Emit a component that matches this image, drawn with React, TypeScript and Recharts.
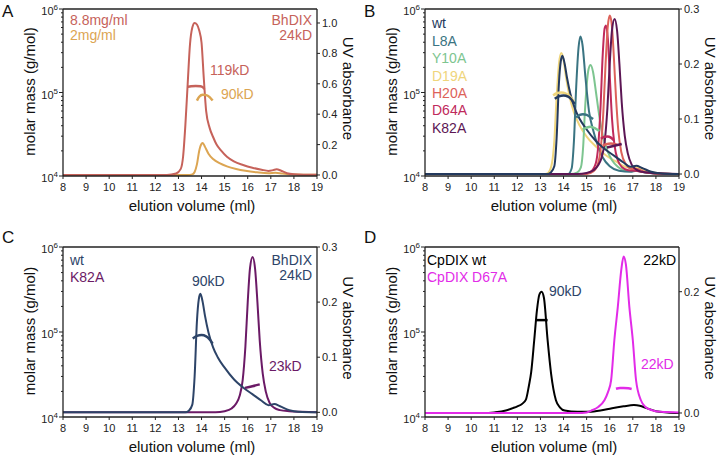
import React from 'react';
import { ComposedChart, Line, XAxis, YAxis, ReferenceLine } from 'recharts';

const FONT = '"Liberation Sans", Arial, Helvetica, sans-serif';
const AXIS = '#222';

// axis ticks
const volTicks = [8, 9, 10, 11, 12, 13, 14, 15, 16, 17, 18, 19];
const massTicks = [
  10000, 20000, 30000, 40000, 50000, 60000, 70000, 80000, 90000,
  100000, 200000, 300000, 400000, 500000, 600000, 700000, 800000, 900000, 1000000,
];
const uvTicksA = [0, 0.2, 0.4, 0.6, 0.8, 1.0];
const uvTicksBC = [0, 0.1, 0.2, 0.3];
const uvTicksD = [0, 0.2];

// ---- panel A: BhDIX at two concentrations
const volA88 = [8, 12.5, 12.9, 13.1, 13.2, 13.3, 13.4, 13.5, 13.6, 13.7, 13.8, 13.9, 14.0, 14.1, 14.2, 14.35, 14.5, 14.65, 14.85, 15.1, 15.4, 15.8, 16.2, 16.6, 16.9, 17.1, 17.25, 17.45, 17.7, 18.0, 18.5, 19];
const uvA88 = [0, 0, 0.01, 0.04, 0.12, 0.33, 0.6, 0.86, 0.97, 1.0, 0.99, 0.95, 0.87, 0.63, 0.42, 0.31, 0.25, 0.2, 0.16, 0.12, 0.09, 0.066, 0.048, 0.035, 0.027, 0.032, 0.037, 0.028, 0.012, 0.005, 0.002, 0.001];
const volA2 = [8, 13.4, 13.6, 13.7, 13.8, 13.9, 14.0, 14.05, 14.15, 14.3, 14.5, 14.8, 15.1, 15.5, 15.9, 16.4, 16.9, 17.2, 17.5, 18.0, 19];
const uvA2 = [0, 0, 0.004, 0.02, 0.07, 0.16, 0.205, 0.21, 0.185, 0.14, 0.105, 0.076, 0.057, 0.04, 0.028, 0.018, 0.012, 0.015, 0.009, 0.003, 0.001];
const mVolA88 = [13.4, 13.55, 13.75, 13.95, 14.05, 14.12];
const massA88 = [117000, 119000, 120000, 119000, 116000, 110000];
const mVolA2 = [13.8, 13.9, 14.05, 14.2, 14.35, 14.48];
const massA2 = [80000, 89000, 94000, 93000, 88000, 80000];

// ---- panel B: BhDIX point mutants
const volWt = [8, 13.3, 13.45, 13.6, 13.7, 13.8, 13.88, 13.95, 14.05, 14.15, 14.3, 14.5, 14.7, 15.0, 15.4, 15.8, 16.2, 16.6, 16.9, 17.15, 17.4, 17.8, 18.2, 19];
const uvWt = [0, 0, 0.003, 0.014, 0.065, 0.165, 0.205, 0.215, 0.2, 0.175, 0.145, 0.118, 0.1, 0.081, 0.06, 0.045, 0.033, 0.021, 0.013, 0.015, 0.011, 0.004, 0.001, 0];
const volD19A = [8, 13.2, 13.35, 13.5, 13.6, 13.7, 13.8, 13.9, 14.0, 14.1, 14.25, 14.45, 14.7, 15.0, 15.4, 15.8, 16.3, 16.8, 17.2, 17.6, 18.2, 19];
const uvD19A = [0, 0, 0.003, 0.02, 0.06, 0.14, 0.2, 0.22, 0.208, 0.178, 0.143, 0.112, 0.088, 0.068, 0.05, 0.035, 0.022, 0.012, 0.012, 0.005, 0.001, 0];
const volL8A = [8, 14.2, 14.35, 14.45, 14.55, 14.65, 14.73, 14.82, 14.95, 15.1, 15.28, 15.5, 15.7, 16.0, 16.4, 16.9, 17.15, 17.5, 18, 19];
const uvL8A = [0, 0, 0.01, 0.06, 0.16, 0.23, 0.25, 0.235, 0.175, 0.115, 0.08, 0.05, 0.03, 0.014, 0.006, 0.004, 0.006, 0.003, 0.001, 0];
const volY10A = [8, 14.3, 14.6, 14.75, 14.85, 14.92, 15.0, 15.08, 15.17, 15.28, 15.4, 15.55, 15.7, 15.9, 16.1, 16.35, 16.7, 17.1, 17.5, 18, 19];
const uvY10A = [0, 0, 0.003, 0.012, 0.05, 0.11, 0.16, 0.19, 0.198, 0.185, 0.15, 0.105, 0.07, 0.042, 0.025, 0.013, 0.006, 0.006, 0.003, 0.001, 0];
const volH20A = [8, 15.0, 15.3, 15.5, 15.62, 15.72, 15.82, 15.92, 16.0, 16.08, 16.17, 16.27, 16.37, 16.5, 16.7, 16.95, 17.2, 17.5, 18, 19];
const uvH20A = [0, 0, 0.005, 0.02, 0.05, 0.11, 0.2, 0.27, 0.288, 0.275, 0.22, 0.14, 0.08, 0.04, 0.018, 0.009, 0.009, 0.004, 0.001, 0];
const volD64A = [8, 14.9, 15.2, 15.4, 15.5, 15.6, 15.7, 15.78, 15.84, 15.92, 16.0, 16.1, 16.2, 16.35, 16.55, 16.8, 17.1, 17.5, 18, 19];
const uvD64A = [0, 0, 0.005, 0.02, 0.05, 0.12, 0.22, 0.265, 0.27, 0.245, 0.18, 0.1, 0.055, 0.025, 0.012, 0.007, 0.006, 0.003, 0.001, 0];
const volK82A = [8, 14.6, 15.0, 15.3, 15.5, 15.65, 15.78, 15.9, 16.0, 16.1, 16.21, 16.32, 16.42, 16.52, 16.65, 16.78, 16.95, 17.15, 17.4, 17.8, 18.3, 19];
const uvK82A = [0, 0, 0.002, 0.007, 0.016, 0.03, 0.058, 0.12, 0.2, 0.262, 0.282, 0.26, 0.2, 0.13, 0.07, 0.038, 0.017, 0.008, 0.004, 0.002, 0.001, 0];

const mVolWt = [13.62, 13.8, 14.0, 14.2, 14.35, 14.48];
const massWt = [84000, 90000, 92000, 89000, 82000, 73000];
const mVolD19A = [13.55, 13.7, 13.9, 14.1, 14.3, 14.45];
const massD19A = [92000, 98000, 100000, 97000, 88000, 78000];
const mVolL8A = [14.55, 14.7, 14.84, 15.0, 15.15, 15.28];
const massL8A = [50000, 54000, 55000, 54000, 51000, 48000];
const mVolY10A = [14.83, 15.0, 15.16, 15.35, 15.55];
const massY10A = [36000, 38000, 39000, 37500, 34500];
const mVolH20A = [15.69, 15.85, 16.05, 16.2, 16.32];
const massH20A = [23000, 24000, 24500, 24200, 23600];
const mVolD64A = [15.62, 15.78, 15.91, 16.05, 16.17];
const massD64A = [28000, 29500, 29700, 28800, 27000];
const mVolK82A = [15.88, 16.2, 16.52];
const massK82A = [22000, 23000, 24200];

// ---- panel D: CpDIX
const volCp = [8, 10.5, 11.0, 11.5, 11.8, 12.0, 12.2, 12.37, 12.5, 12.6, 12.73, 12.85, 12.95, 13.05, 13.15, 13.31, 13.46, 13.67, 13.85, 14.05, 14.6, 15.1, 15.6, 16.1, 16.6, 17.05, 17.3, 17.6, 18.0, 18.5, 19];
const uvCp = [0, 0, 0.001, 0.004, 0.008, 0.011, 0.015, 0.022, 0.045, 0.068, 0.12, 0.17, 0.195, 0.2, 0.19, 0.12, 0.065, 0.021, 0.009, 0.004, 0.002, 0.002, 0.004, 0.008, 0.011, 0.013, 0.012, 0.008, 0.003, 0.001, 0];
const volCpD67A = [8, 14.6, 15.0, 15.2, 15.5, 15.77, 15.92, 16.06, 16.2, 16.35, 16.5, 16.6, 16.7, 16.85, 17.0, 17.14, 17.35, 17.55, 17.8, 18.2, 19];
const uvCpD67A = [0, 0, 0.001, 0.004, 0.01, 0.021, 0.034, 0.054, 0.12, 0.175, 0.236, 0.258, 0.245, 0.175, 0.12, 0.054, 0.021, 0.01, 0.005, 0.002, 0.001];
const mVolCp = [12.81, 13.05, 13.31];
const massCp = [138000, 138000, 138000];
const mVolCpD67A = [16.27, 16.45, 16.6, 16.8, 16.95];
const massCpD67A = [21500, 22000, 22000, 21800, 21400];

const pts = (vol: number[], y: number[]) => vol.map((v, i) => ({ v, y: y[i] }));

const RED = '#c6625a';
const GOLD = '#dca552';
const NAVY = '#243a5e';
const TEAL = '#3a7482';
const GREEN = '#7dc590';
const YELLOW = '#efd57c';
const CORAL = '#dd625a';
const CRIMSON = '#bf2a5c';
const PURPLE = '#5c1654';
const NAVY_C = '#2d4468';
const PURPLE_C = '#6b1a66';
const MAGENTA = '#e22be8';

function VolTick({ x, y, payload }: any) {
  return (
    <g>
      <line x1={x} x2={x} y1={y} y2={y + 3} stroke={AXIS} strokeWidth={1} />
      <text x={x} y={y + 15} textAnchor="middle" fontSize={11} fontFamily={FONT} fill="#222">
        {payload.value}
      </text>
    </g>
  );
}

function MassTick({ x, y, payload }: any) {
  const v = payload.value;
  const e = Math.round(Math.log10(v));
  const major = Math.abs(v / Math.pow(10, e) - 1) < 1e-6;
  return (
    <g>
      <line x1={x} x2={x - (major ? 4 : 2)} y1={y} y2={y} stroke={AXIS} strokeWidth={1} />
      {major && (
        <text x={x - 5} y={y + 6} textAnchor="end" fontSize={11} fontFamily={FONT} fill="#222">
          10<tspan dy={-5} fontSize={8}>{e}</tspan>
        </text>
      )}
    </g>
  );
}

function UvTick({ x, y, payload }: any) {
  return (
    <g>
      <line x1={x} x2={x + 3} y1={y} y2={y} stroke={AXIS} strokeWidth={1} />
      <text x={x + 5} y={y + 4} fontSize={11} fontFamily={FONT} fill="#222">
        {Number(payload.value).toFixed(1)}
      </text>
    </g>
  );
}

type Curve = { data: { v: number; y: number }[]; color: string };

function Panel(p: {
  left: number;
  top: number;
  height: number;
  plotTop: number;
  plotBottom: number;
  uvDomain: [number, number];
  uvTicks: number[];
  uv: Curve[];
  mass: Curve[];
}) {
  return (
    <div style={{ position: 'absolute', left: p.left, top: p.top }}>
      <ComposedChart width={362} height={p.height} margin={{ top: p.plotTop, right: 0, bottom: 0, left: 0 }}>
        <XAxis
          dataKey="v"
          type="number"
          domain={[8, 19]}
          ticks={volTicks}
          interval={0}
          allowDataOverflow
          height={p.height - p.plotBottom}
          tickSize={0}
          tickMargin={0}
          tickLine={false}
          tick={(t: any) => <VolTick {...t} />}
          stroke={AXIS}
          strokeWidth={1.3}
        />
        <YAxis
          yAxisId="m"
          type="number"
          scale="log"
          domain={[10000, 1000000]}
          ticks={massTicks}
          interval={0}
          allowDataOverflow
          width={63}
          tickSize={0}
          tickMargin={0}
          tickLine={false}
          tick={(t: any) => <MassTick {...t} />}
          stroke={AXIS}
          strokeWidth={1.3}
        />
        <YAxis
          yAxisId="uv"
          orientation="right"
          type="number"
          domain={p.uvDomain}
          ticks={p.uvTicks}
          interval={0}
          allowDataOverflow
          width={45}
          tickSize={0}
          tickMargin={0}
          tickLine={false}
          tick={(t: any) => <UvTick {...t} />}
          stroke={AXIS}
          strokeWidth={1.3}
        />
        <ReferenceLine yAxisId="m" y={1000000} stroke={AXIS} strokeWidth={1.3} />
        {p.uv.map((c, i) => (
          <Line
            key={'uv' + i}
            yAxisId="uv"
            data={c.data}
            dataKey="y"
            type="monotone"
            stroke={c.color}
            strokeWidth={2}
            dot={false}
            isAnimationActive={false}
          />
        ))}
        {p.mass.map((c, i) => (
          <Line
            key={'m' + i}
            yAxisId="m"
            data={c.data}
            dataKey="y"
            type="monotone"
            stroke={c.color}
            strokeWidth={2.5}
            dot={false}
            isAnimationActive={false}
          />
        ))}
      </ComposedChart>
    </div>
  );
}

function Titles({ dx, dy, mid }: { dx: number; dy: number; mid: number }) {
  const s = { fontFamily: FONT, fontSize: 15, fill: '#111' };
  return (
    <g>
      <text x={dx + 35} y={mid - 1} textAnchor="middle" transform={`rotate(-90, ${dx + 35}, ${mid - 1})`} {...s}>
        molar mass (g/mol)
      </text>
      <text x={dx + 343} y={mid - 4} textAnchor="middle" transform={`rotate(90, ${dx + 343}, ${mid - 4})`} {...s}>
        UV absorbance
      </text>
      <text x={dx + 192} y={dy} textAnchor="middle" {...s}>
        elution volume (ml)
      </text>
    </g>
  );
}

export default function App() {
  const t14 = { fontFamily: FONT, fontSize: 14 };
  const letter = { fontFamily: FONT, fontSize: 17, fill: '#111' };
  const bLegend: [string, string][] = [
    ['wt', NAVY],
    ['L8A', TEAL],
    ['Y10A', GREEN],
    ['D19A', YELLOW],
    ['H20A', CORAL],
    ['D64A', CRIMSON],
    ['K82A', PURPLE],
  ];
  return (
    <div style={{ position: 'absolute', left: 0, top: 0, width: 724, height: 461, background: '#fff' }}>
      <Panel
        left={0}
        top={0}
        height={230}
        plotTop={9}
        plotBottom={176}
        uvDomain={[-0.0066, 1.092]}
        uvTicks={uvTicksA}
        uv={[
          { data: pts(volA2, uvA2), color: GOLD },
          { data: pts(volA88, uvA88), color: RED },
        ]}
        mass={[
          { data: pts(mVolA88, massA88), color: RED },
          { data: pts(mVolA2, massA2), color: GOLD },
        ]}
      />
      <Panel
        left={362}
        top={0}
        height={230}
        plotTop={9}
        plotBottom={176}
        uvDomain={[-0.0036, 0.3]}
        uvTicks={uvTicksBC}
        uv={[
          { data: pts(volD19A, uvD19A), color: YELLOW },
          { data: pts(volY10A, uvY10A), color: GREEN },
          { data: pts(volL8A, uvL8A), color: TEAL },
          { data: pts(volD64A, uvD64A), color: CRIMSON },
          { data: pts(volH20A, uvH20A), color: CORAL },
          { data: pts(volK82A, uvK82A), color: PURPLE },
          { data: pts(volWt, uvWt), color: NAVY },
        ]}
        mass={[
          { data: pts(mVolD19A, massD19A), color: YELLOW },
          { data: pts(mVolWt, massWt), color: NAVY },
          { data: pts(mVolL8A, massL8A), color: TEAL },
          { data: pts(mVolY10A, massY10A), color: GREEN },
          { data: pts(mVolD64A, massD64A), color: CRIMSON },
          { data: pts(mVolH20A, massH20A), color: CORAL },
          { data: pts(mVolK82A, massK82A), color: PURPLE },
        ]}
      />
      <Panel
        left={0}
        top={230}
        height={231}
        plotTop={17}
        plotBottom={187}
        uvDomain={[-0.0085, 0.3]}
        uvTicks={uvTicksBC}
        uv={[
          { data: pts(volK82A, uvK82A), color: PURPLE_C },
          { data: pts(volWt, uvWt), color: NAVY_C },
        ]}
        mass={[
          { data: pts(mVolWt, massWt), color: NAVY_C },
          { data: pts(mVolK82A, massK82A), color: PURPLE_C },
        ]}
      />
      <Panel
        left={362}
        top={230}
        height={231}
        plotTop={17}
        plotBottom={187}
        uvDomain={[-0.0066, 0.2737]}
        uvTicks={uvTicksD}
        uv={[
          { data: pts(volCp, uvCp), color: '#000' },
          { data: pts(volCpD67A, uvCpD67A), color: MAGENTA },
        ]}
        mass={[
          { data: pts(mVolCp, massCp), color: '#000' },
          { data: pts(mVolCpD67A, massCpD67A), color: MAGENTA },
        ]}
      />
      <svg
        width={724}
        height={461}
        style={{ position: 'absolute', left: 0, top: 0, pointerEvents: 'none' }}
      >
        <text x={2} y={17} {...letter}>A</text>
        <text x={364} y={17} {...letter}>B</text>
        <text x={2} y={243} {...letter}>C</text>
        <text x={364} y={243} {...letter}>D</text>

        <Titles dx={0} dy={211} mid={92.5} />
        <Titles dx={362} dy={211} mid={92.5} />
        <Titles dx={0} dy={452} mid={332} />
        <Titles dx={362} dy={452} mid={332} />

        {/* A */}
        <text x={70} y={25} fill={RED} {...t14}>8.8mg/ml</text>
        <text x={70} y={40} fill={GOLD} {...t14}>2mg/ml</text>
        <text x={312} y={25} fill={RED} textAnchor="end" {...t14}>BhDIX</text>
        <text x={312} y={40} fill={RED} textAnchor="end" {...t14}>24kD</text>
        <text x={210} y={75} fill={RED} {...t14}>119kD</text>
        <text x={221} y={99} fill={GOLD} {...t14}>90kD</text>

        {/* B */}
        {bLegend.map(([name, color], i) => (
          <text key={name} x={432} y={28.3 + i * 17.4} fill={color} {...t14}>
            {name}
          </text>
        ))}

        {/* C */}
        <text x={70} y={265} fill={NAVY_C} {...t14}>wt</text>
        <text x={70} y={281.7} fill={PURPLE_C} {...t14}>K82A</text>
        <text x={312} y={264.5} fill={NAVY_C} textAnchor="end" {...t14}>BhDIX</text>
        <text x={312} y={280} fill={NAVY_C} textAnchor="end" {...t14}>24kD</text>
        <text x={192} y={285.5} fill={NAVY_C} {...t14}>90kD</text>
        <text x={269} y={371} fill={PURPLE_C} {...t14}>23kD</text>

        {/* D */}
        <text x={427} y={265} fill="#000" {...t14}>CpDIX wt</text>
        <text x={427} y={281.7} fill={MAGENTA} {...t14}>CpDIX D67A</text>
        <text x={676} y={264.5} fill="#000" textAnchor="end" {...t14}>22kD</text>
        <text x={549} y={295.5} fill={NAVY_C} {...t14}>90kD</text>
        <text x={641} y={369} fill={MAGENTA} {...t14}>22kD</text>
      </svg>
    </div>
  );
}
